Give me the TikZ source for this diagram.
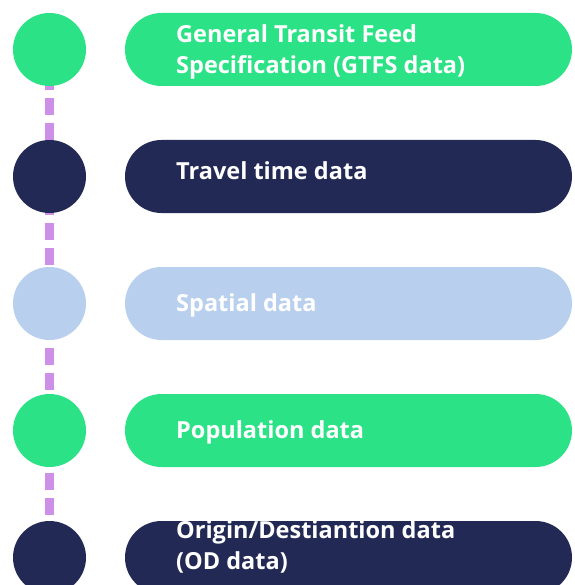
\documentclass[tikz,border=0pt]{standalone}
\usepackage{fontspec}
\setmainfont{Open Sans}
\definecolor{cgreen}{HTML}{2CE286}
\definecolor{cnavy}{HTML}{222955}
\definecolor{clight}{HTML}{B9CFEE}
\definecolor{cline}{HTML}{CE8FE8}
\begin{document}
\begin{tikzpicture}[x=1pt,y=-1pt,
  dot/.style={circle,minimum size=73pt,inner sep=0pt,draw=none},
  pill/.style={rounded corners=36.5pt,draw=none},
  lbl/.style={anchor=base west,inner sep=0pt,text=white,font=\fontsize{23.5}{32}\selectfont\bfseries}]
\useasboundingbox (0,0) rectangle (574,585);
\coordinate (top) at (49.5,48);
\coordinate (bot) at (49.5,585);
\draw[cline,line width=9pt,dash pattern=on 16.7pt off 8.3pt] (top) -- (bot);
\node[dot,fill=cgreen] (c1) at (49.5,49.5) {};
\node[dot,fill=cnavy] (c2) at (49.5,176.5) {};
\node[dot,fill=clight] (c3) at (49.5,303.5) {};
\node[dot,fill=cgreen] (c4) at (49.5,430.5) {};
\node[dot,fill=cnavy] (c5) at (49.5,557.5) {};
\fill[pill,cgreen] (125,13) rectangle (572,86);
\fill[pill,cnavy] (125,140) rectangle (572,213);
\fill[pill,clight] (125,267) rectangle (572,340);
\fill[pill,cgreen] (125,394) rectangle (572,467);
\fill[pill,cnavy] (125,521) rectangle (572,594);
\node[lbl] (t1a) at (176,42.3) {General Transit Feed};
\node[lbl] (t1b) at (176,74) {Specification (GTFS data)};
\node[lbl] (t2) at (176,180) {Travel time data};
\node[lbl] (t3) at (176,311.7) {Spatial data};
\node[lbl] (t4) at (176,438.3) {Population data};
\node[lbl] (t5a) at (176,538) {Origin/Destiantion data};
\node[lbl] (t5b) at (176,569) {(OD data)};
\end{tikzpicture}
\end{document}
